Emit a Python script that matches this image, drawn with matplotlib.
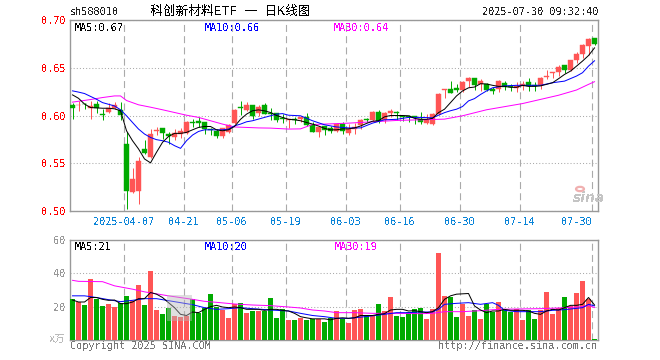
import matplotlib
matplotlib.use('Agg')
import matplotlib.pyplot as plt
from matplotlib.patches import Rectangle, Circle

plt.rcParams['font.family'] = ['DejaVu Sans Mono', 'Noto Sans CJK SC']
plt.rcParams['text.antialiased'] = False

# candles, oldest first
opens = [.6108,.6108,.6125,.6076,.6118,.6015,.6038,.6076,.6055,.5700,.5202,.5212,.5650,.5566,.5837,.5868,.5806,.5774,.5806,.5816,
         .5931,.5941,.5931,.5858,.5837,.5785,.5826,.5920,.6087,.6055,.6108,.6024,.6108,.6024,.6024,.5972,.5951,.5962,.5962,.5983,
         .5900,.5826,.5889,.5868,.5837,.5910,.5816,.5858,.5900,.5962,.5951,.6035,.5951,.6024,.6035,.5995,.6000,.5993,.5962,.5920,
         .5910,.6014,.6264,.6274,.6285,.6264,.6357,.6389,.6326,.6326,.6274,.6274,.6337,.6305,.6285,.6305,.6347,.6316,.6316,.6399,
         .6441,.6451,.6524,.6472,.6586,.6649,.6732,.6816]
closes = [.6076,.6115,.6118,.6100,.6076,.6005,.6083,.6110,.6010,.5212,.5337,.5525,.5608,.5806,.5847,.5816,.5785,.5816,.5837,.5931,
          .5920,.5920,.5858,.5847,.5785,.5868,.5899,.6055,.6076,.6108,.5993,.6087,.6014,.6014,.5951,.5962,.5962,.5951,.5983,.5900,
          .5826,.5878,.5847,.5837,.5910,.5837,.5858,.5878,.5951,.5951,.6035,.5941,.6024,.6045,.6024,.5980,.5980,.5983,.5930,.5951,
          .6014,.6222,.6278,.6239,.6271,.6347,.6389,.6316,.6357,.6264,.6260,.6357,.6295,.6295,.6305,.6326,.6305,.6305,.6389,.6410,
          .6451,.6503,.6472,.6586,.6649,.6743,.6805,.6753]
highs = [.6130,.6150,.6130,.6150,.6150,.6066,.6135,.6145,.6142,.5823,.5452,.5566,.5743,.5858,.5878,.5868,.5826,.5858,.5868,.5941,
         .5962,.5983,.5931,.5868,.5858,.5868,.5910,.6066,.6150,.6139,.6108,.6108,.6129,.6076,.6024,.6014,.5962,.5983,.6000,.6024,
         .5927,.5889,.5889,.5889,.5920,.5931,.5910,.5920,.5962,.5972,.6045,.6055,.6035,.6066,.6045,.6000,.6003,.6000,.6035,.6014,
         .6024,.6232,.6278,.6357,.6326,.6357,.6400,.6389,.6378,.6337,.6295,.6368,.6357,.6326,.6347,.6357,.6389,.6347,.6400,.6472,
         .6451,.6524,.6534,.6586,.6670,.6753,.6816,.6816]
lows = [.5960,.6045,.6065,.5960,.6030,.5955,.6024,.6066,.5955,.5025,.5191,.5077,.5597,.5556,.5795,.5753,.5701,.5743,.5764,.5806,
        .5878,.5878,.5806,.5795,.5764,.5764,.5816,.5910,.6003,.6045,.5962,.6000,.6014,.5951,.5930,.5920,.5868,.5910,.5930,.5890,
        .5823,.5774,.5795,.5816,.5826,.5806,.5795,.5806,.5858,.5930,.5941,.5920,.5920,.5983,.5951,.5945,.5927,.5910,.5910,.5910,
        .5900,.6003,.6180,.6239,.6243,.6243,.6295,.6264,.6253,.6253,.6222,.6243,.6264,.6253,.6243,.6264,.6253,.6253,.6274,.6378,
        .6389,.6409,.6441,.6462,.6545,.6607,.6638,.6743]

ma5_i = list(range(88))
ma5 = [.6216,.6180,.6120,.6083,.6080,.6076,.6076,.6070,.6050,.5840,.5736,.5650,.5545,.5504,.5615,.5719,.5780,.5813,.5813,.5823,
       .5850,.5875,.5885,.5885,.5850,.5840,.5850,.5885,.5960,.6014,.6050,.6059,.6049,.6031,.6000,.5980,.5960,.5955,.5945,.5927,
       .5910,.5890,.5865,.5850,.5850,.5860,.5860,.5870,.5890,.5917,.5940,.5945,.5986,.6000,.6000,.6000,.5997,.5970,.5960,.5960,
       .5970,.6030,.6066,.6135,.6205,.6257,.6290,.6298,.6333,.6330,.6316,.6305,.6305,.6295,.6295,.6316,.6305,.6305,.6310,.6326,
       .6343,.6385,.6430,.6465,.6517,.6570,.6628,.6708]
ma10_i = [0,1,2,3,4,5,7,8,9,10,11,12,13,14,15,16,17,18,19,20,21,22,23,25,26,27,28,29,30,32,34,35,36,38,40,42,44,46,48,50,52,54,
          56,58,60,62,63,64,65,66,67,68,69,70,71,72,74,76,78,80,82,84,85,86,87]
ma10 = [.6258,.6245,.6230,.6200,.6170,.6135,.6100,.6060,.5997,.5927,.5858,.5806,.5770,.5747,.5736,.5720,.5684,.5656,.5736,.5795,
        .5833,.5850,.5850,.5850,.5858,.5892,.5910,.5934,.5945,.5980,.6014,.6020,.6003,.5997,.5945,.5903,.5880,.5870,.5870,.5920,
        .5955,.5960,.5980,.5980,.5976,.6030,.6050,.6066,.6094,.6153,.6177,.6220,.6257,.6290,.6300,.6310,.6316,.6316,.6316,.6343,
        .6360,.6413,.6448,.6517,.6573]
ma30_i = [0,3,5,7,8,9,11,13,15,19,21,23,25,27,29,31,33,36,38,40,42,46,50,54,58,62,65,69,75,81,84,86,87]
ma30 = [.6140,.6167,.6188,.6205,.6205,.6157,.6112,.6087,.6060,.6003,.5980,.5945,.5910,.5880,.5875,.5870,.5868,.5858,.5860,.5906,
        .5910,.5920,.5934,.5948,.5955,.5962,.5997,.6060,.6125,.6212,.6267,.6326,.6354]

volumes = [24.8,22.8,20.8,36.6,24.8,20.2,21.4,19.8,22.0,26.3,23.4,32.9,20.8,41.4,17.8,15.4,19.0,14.7,13.9,14.7,
           24.4,16.4,19.4,27.5,19.6,17.8,13.5,21.4,22.0,16.0,17.2,17.2,17.2,25.1,13.5,18.4,12.3,12.3,13.5,12.3,
           12.7,12.7,11.1,13.5,17.2,12.7,10.5,17.8,18.4,14.7,14.7,21.4,17.2,25.7,14.7,14.1,16.6,18.4,19.0,12.9,
           18.4,52.3,26.3,25.7,14.1,21.4,14.7,17.8,12.9,21.4,16.6,22.6,17.8,16.6,18.4,12.3,17.8,12.9,17.8,28.7,
           15.4,19.0,25.7,20.2,28.1,35.4,24.4,0.8]
vol5 = [24.0,22.8,22.8,25.5,25.5,24.4,23.8,24.0,21.8,21.8,22.8,24.8,24.8,28.5,27.5,25.5,22.4,19.4,15.4,14.7,
        16.8,16.4,18.4,20.0,20.8,19.8,19.4,19.8,19.4,18.4,18.4,18.4,17.8,18.4,18.4,17.8,17.4,16.0,14.0,13.3,
        12.7,12.7,12.7,12.1,13.0,13.3,13.0,13.3,14.7,14.7,14.7,15.4,15.8,18.0,18.4,18.4,17.4,17.6,17.0,16.4,
        17.0,19.4,24.4,26.5,27.5,27.7,27.9,20.4,18.0,16.4,17.4,17.4,18.4,17.8,17.8,17.8,17.4,16.0,15.4,17.4,
        18.4,18.0,19.4,20.8,20.8,21.4,25.5,21.0]
vol10_i = [0,2,4,6,8,10,12,14,16,18,20,22,24,26,28,30,33,36,38,40,42,44,46,48,50,52,54,56,58,60,61,62,64,66,68,70,71,72,74,76,78,
           80,82,84,85,86,87]
vol10 = [26.5,26.5,25.5,24.2,23.0,23.8,24.8,24.8,23.6,22.4,21.2,19.4,18.4,18.8,19.4,18.8,18.0,17.4,16.0,14.7,14.0,13.0,13.0,13.7,
         14.5,15.4,16.4,16.4,16.8,16.8,18.4,21.4,22.0,22.4,21.4,22.4,20.8,17.8,17.0,17.0,17.0,17.8,18.2,19.0,19.4,21.4,20.5]
vol30_i = [0,1,5,7,10,12,16,20,22,24,27,30,33,36,38,40,42,44,47,50,54,58,60,62,65,68,71,74,78,81,84,85,86,87]
vol30 = [35.8,35.2,35.0,32.5,30.5,28.9,26.5,24.4,23.2,22.6,21.6,21.0,20.6,19.8,19.2,18.0,17.4,16.4,16.4,16.0,16.0,15.8,16.0,17.0,
         17.0,17.6,18.4,18.6,18.8,19.2,19.8,20.0,20.6,19.5]

tick_i = [9,19,27,36,46,55,65,75,87]
tick_dates = ['2025-04-07','04-21','05-06','05-19','06-03','06-16','06-30','07-14','07-30']

RED = '#ff5555'
GREEN = '#00aa00'
GREY = '#999999'
LW = 0.72
BAR_W = 4.9/6

fig = plt.figure(figsize=(6.6, 3.6), dpi=100)
ax = fig.add_axes([70/660, (360-211)/360, 528/660, 191/360])
vx = fig.add_axes([70/660, (360-340)/360, 528/660, 100/360])

xs = list(range(len(opens)))
cols = [RED if c >= o else GREEN for o, c in zip(opens, closes)]

for a in (ax, vx):
    a.set_xlim(0, 88)
    for s in a.spines.values():
        s.set_color(GREY)
        s.set_linewidth(1.0)
    a.set_xticks(tick_i)
    a.grid(axis='x', color='#aaaaaa', linestyle=(0, (6.3, 3.8)), linewidth=0.8)
    a.grid(axis='y', color='#aaaaaa', linestyle=(0, (1, 2)), linewidth=0.75)
    a.set_axisbelow(True)
    a.tick_params(length=0)

ax.set_ylim(0.5, 0.7)
ax.set_yticks([0.5, 0.55, 0.6, 0.65, 0.7])
ax.set_yticklabels(['0.50', '0.55', '0.60', '0.65', '0.70'], color='#ff0000', fontsize=7.4)
ax.set_xticklabels(tick_dates, color='#0a84d8', fontsize=7.4)
ax.get_xticklabels()[-1].set_ha('right')
ax.tick_params(axis='y', pad=3)
ax.tick_params(axis='x', pad=4)

centers = [x + 0.42 for x in xs]
ax.vlines(centers, lows, highs, colors=cols, linewidth=LW, zorder=3)
ax.bar(xs, [c - o for o, c in zip(opens, closes)], bottom=opens, width=BAR_W, align='edge',
       color=cols, edgecolor=cols, linewidth=0.3, zorder=4)
ax.plot([centers[i] for i in ma30_i], ma30, color='#ff00ff', lw=LW, zorder=5)
ax.plot([centers[i] for i in ma10_i], ma10, color='#0000ff', lw=LW, zorder=6)
ax.plot([centers[i] for i in ma5_i], ma5, color='black', lw=LW, zorder=7)

vx.set_ylim(0, 60)
vx.set_yticks([0, 20, 40, 60])
vx.set_yticklabels(['', '20', '40', '60'], color=GREY, fontsize=7.4)
vx.set_xticklabels([])
vx.tick_params(axis='y', pad=3)
vx.bar(xs, volumes, width=BAR_W, align='edge', color=cols, zorder=3)
vx.plot([centers[i] for i in vol30_i], vol30, color='#ff00ff', lw=LW, zorder=5)
vx.plot([centers[i] for i in vol10_i], vol10, color='#0000ff', lw=LW, zorder=6)
vx.plot(centers, vol5, color='black', lw=LW, zorder=7)

# sina logo smudge over the volume bars
fig.add_artist(Rectangle((167/660, (360-321)/360), 25/660, 26/360, transform=fig.transFigure,
                         facecolor='#b8b8b8', edgecolor='none', alpha=0.45, zorder=8))


def label(x, y, s, color='black', size=7.4, ha='left'):
    fig.text(x/660, 1 - y/360, s, color=color, fontsize=size, ha=ha, va='center', zorder=10)


label(70, 12, 'sh588010', '#222222')
label(150, 11, '科创新材料ETF 一 日K线图', 'black', size=9.2)
label(598, 12, '2025-07-30 09:32:40', '#222222', ha='right')
label(75, 28, 'MA5:0.67')
label(205, 28, 'MA10:0.66', '#0000ff')
label(334, 28, 'MA30:0.64', '#ff00ff')
label(75, 247, 'MA5:21')
label(205, 247, 'MA10:20', '#0000ff')
label(335, 247, 'MA30:19', '#ff00ff')
label(70, 346, 'Copyright 2025 SINA.COM', '#777777')
label(597, 346, 'http://finance.sina.com.cn', '#777777', ha='right')
label(49, 340, 'x万', '#bbbbbb', size=7.5)
# sina watermark, bottom right of the price panel
fig.add_artist(Circle((580/660, 1 - 189/360), 0.006, transform=fig.transFigure, facecolor='none',
                      edgecolor='#f0b0b0', linewidth=1.6, zorder=9))
fig.text(573/660, 1 - 198/360, 'sina', color='#c4c4c4', fontsize=10, fontweight='bold', style='italic',
         family='DejaVu Sans', ha='left', va='center', zorder=10)

fig.savefig('out.png', dpi=100)
